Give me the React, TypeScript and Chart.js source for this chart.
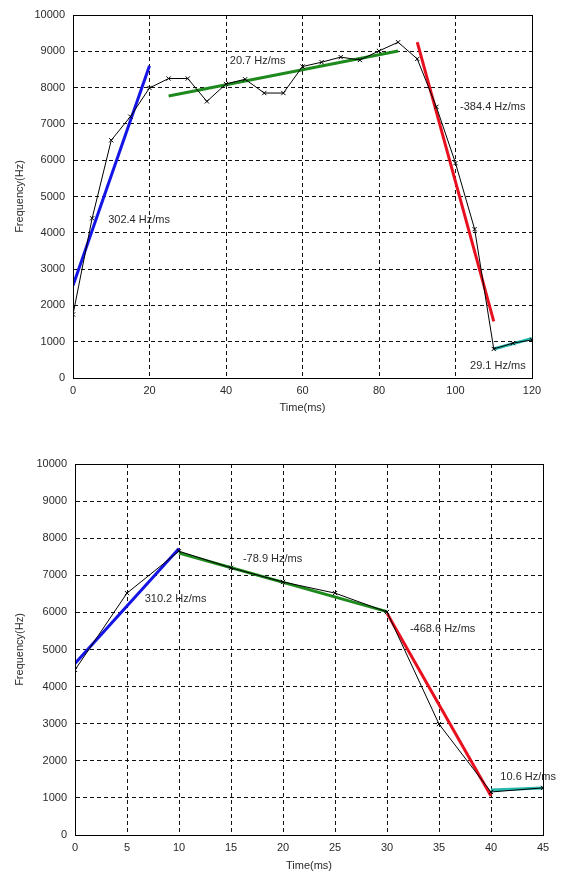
import React, { useEffect, useRef } from "react";
import { Chart, registerables } from "chart.js";

Chart.register(...registerables);

// ---------- Top chart data ----------
const topTime = [0, 5, 10, 15, 20, 25, 30, 35, 40, 45, 50, 55, 60, 65, 70, 75, 80, 85, 90, 95, 100, 105, 110, 115, 120];
const topFreq = [1750, 4400, 6550, 7200, 7990, 8250, 8250, 7620, 8100, 8230, 7850, 7850, 8580, 8700, 8840, 8760, 9010, 9250, 8790, 7470, 5920, 4100, 800, 960, 1050];
const topBlueX = [0, 20];
const topBlueY = [2550, 8600];
const topGreenX = [25, 85];
const topGreenY = [7770, 9010];
const topRedX = [90, 110];
const topRedY = [9250, 1560];
const topCyanX = [110, 120];
const topCyanY = [800, 1090];
const topXTicks = [0, 20, 40, 60, 80, 100, 120];
const topLabelText = ["302.4 Hz/ms", "20.7 Hz/ms", "-384.4 Hz/ms", "29.1 Hz/ms"];
const topLabelX = [9.2, 41, 101.2, 103.8];
const topLabelY = [4350, 8730, 7465, 330];

// ---------- Bottom chart data ----------
const botTime = [0, 5, 10, 15, 20, 25, 30, 35, 40, 45];
const botFreq = [4450, 6520, 7650, 7200, 6820, 6520, 6010, 2990, 1160, 1270];
const botBlueX = [0, 10];
const botBlueY = [4620, 7720];
const botGreenX = [10, 30];
const botGreenY = [7600, 6020];
const botRedX = [30, 40];
const botRedY = [5980, 1050];
const botCyanX = [40, 45];
const botCyanY = [1210, 1265];
const botXTicks = [0, 5, 10, 15, 20, 25, 30, 35, 40, 45];
const botLabelText = ["310.2 Hz/ms", "-78.9 Hz/ms", "-468.6 Hz/ms", "10.6 Hz/ms"];
const botLabelX = [6.7, 16.15, 32.2, 40.9];
const botLabelY = [6360, 7440, 5550, 1560];

const yTicks = [0, 1000, 2000, 3000, 4000, 5000, 6000, 7000, 8000, 9000, 10000];

const FONT = "'Liberation Sans', Arial, sans-serif";
const TEXT = "#2a2a2a";

const zip = (xs: number[], ys: number[]) => xs.map((x, i) => ({ x, y: ys[i] }));

const fitDs = (xs: number[], ys: number[], color: string) => ({
  data: zip(xs, ys),
  showLine: true,
  borderColor: color,
  backgroundColor: color,
  borderWidth: 3,
  pointRadius: 0,
});

function makeConfig(p: any) {
  const labelPlugin = {
    id: "slopeLabels",
    afterDatasetsDraw(chart: any) {
      const { ctx, scales } = chart;
      ctx.save();
      ctx.font = `11px ${FONT}`;
      ctx.fillStyle = TEXT;
      ctx.textAlign = "left";
      ctx.textBaseline = "middle";
      p.labelText.forEach((t: string, i: number) => {
        ctx.fillText(t, scales.x.getPixelForValue(p.labelX[i]), scales.y.getPixelForValue(p.labelY[i]));
      });
      ctx.restore();
    },
  };
  const boxPlugin = {
    id: "box",
    afterDraw(chart: any) {
      const { ctx, chartArea: a } = chart;
      ctx.save();
      ctx.strokeStyle = "#000";
      ctx.lineWidth = 1;
      ctx.setLineDash([]);
      ctx.strokeRect(Math.round(a.left) + 0.5, Math.round(a.top) + 0.5, Math.round(a.right - a.left), Math.round(a.bottom - a.top));
      ctx.restore();
    },
  };
  return {
    type: "scatter",
    data: {
      datasets: [
        {
          data: zip(p.time, p.freq),
          showLine: true,
          borderColor: "#000",
          backgroundColor: "#000",
          borderWidth: 1,
          pointStyle: "crossRot",
          pointRadius: 3,
          pointBorderWidth: 1,
        },
        fitDs(p.blueX, p.blueY, "#1414e6"),
        fitDs(p.greenX, p.greenY, "#1e8a1e"),
        fitDs(p.redX, p.redY, "#e8101e"),
        fitDs(p.cyanX, p.cyanY, "#26b8ae"),
      ],
    },
    options: {
      animation: false,
      responsive: false,
      maintainAspectRatio: false,
      layout: { padding: p.padding },
      plugins: { legend: { display: false }, tooltip: { enabled: false } },
      scales: {
        x: {
          type: "linear",
          min: p.xTicks[0],
          max: p.xTicks[p.xTicks.length - 1],
          afterBuildTicks: (s: any) => {
            s.ticks = p.xTicks.map((v: number) => ({ value: v }));
          },
          afterFit: (s: any) => {
            s.height = p.xHeight;
          },
          ticks: { color: TEXT, font: { family: FONT, size: 11 }, padding: 6, maxRotation: 0, autoSkip: false, callback: (v: any) => String(v) },
          grid: { color: "#111", lineWidth: 1, drawTicks: false },
          border: { display: true, color: "#000", dash: [4, 3] },
          title: { display: true, text: "Time(ms)", color: TEXT, font: { family: FONT, size: 11 }, padding: { top: 0, bottom: p.xTitlePad } },
        },
        y: {
          type: "linear",
          min: 0,
          max: 10000,
          afterBuildTicks: (s: any) => {
            s.ticks = yTicks.map((v: number) => ({ value: v }));
          },
          afterFit: (s: any) => {
            s.width = p.yWidth;
          },
          ticks: { color: TEXT, font: { family: FONT, size: 11 }, padding: 8, autoSkip: false, callback: (v: any) => String(v) },
          grid: { color: "#111", lineWidth: 1, drawTicks: false },
          border: { display: true, color: "#000", dash: [4, 3] },
          title: { display: true, text: "Frequency(Hz)", color: TEXT, font: { family: FONT, size: 11 }, padding: { top: 13, bottom: 0 } },
        },
      },
    },
    plugins: [labelPlugin, boxPlugin],
  };
}

const topParams = {
  time: topTime, freq: topFreq,
  blueX: topBlueX, blueY: topBlueY, greenX: topGreenX, greenY: topGreenY,
  redX: topRedX, redY: topRedY, cyanX: topCyanX, cyanY: topCyanY,
  xTicks: topXTicks, labelText: topLabelText, labelX: topLabelX, labelY: topLabelY,
  padding: { left: 0, top: 15, right: 36, bottom: 12 },
  xHeight: 40, yWidth: 73, xTitlePad: 3,
};

const botParams = {
  time: botTime, freq: botFreq,
  blueX: botBlueX, blueY: botBlueY, greenX: botGreenX, greenY: botGreenY,
  redX: botRedX, redY: botRedY, cyanX: botCyanX, cyanY: botCyanY,
  xTicks: botXTicks, labelText: botLabelText, labelX: botLabelX, labelY: botLabelY,
  padding: { left: 0, top: 34, right: 25, bottom: 0 },
  xHeight: 38, yWidth: 75, xTitlePad: 0,
};

function Plot({ params, top, height }: { params: any; top: number; height: number }) {
  const ref = useRef<HTMLCanvasElement | null>(null);
  useEffect(() => {
    if (!ref.current) return;
    const chart = new Chart(ref.current, makeConfig(params) as any);
    return () => chart.destroy();
  }, []);
  return (
    <canvas
      ref={ref}
      width={568}
      height={height}
      style={{ position: "absolute", left: 0, top, width: 568, height }}
    />
  );
}

export default function App() {
  return (
    <div style={{ position: "absolute", left: 0, top: 0, width: 568, height: 873, background: "#fff" }}>
      <Plot params={topParams} top={0} height={430} />
      <Plot params={botParams} top={430} height={443} />
    </div>
  );
}
